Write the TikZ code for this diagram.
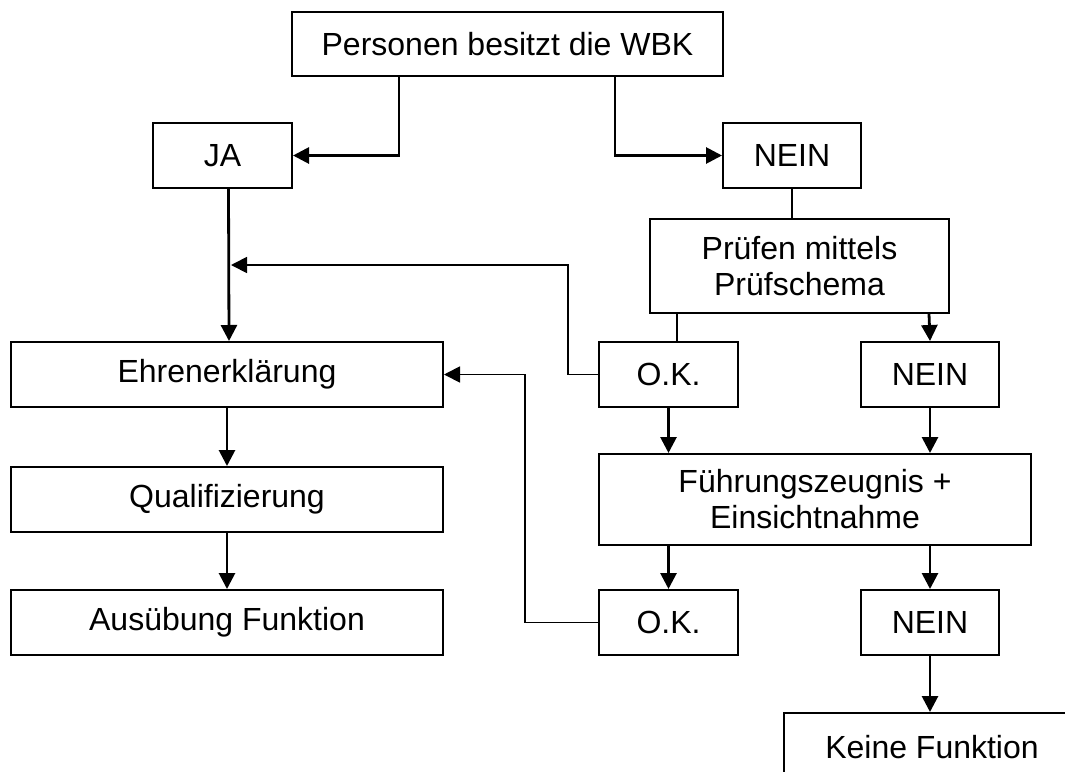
\documentclass[tikz,border=0pt]{standalone}
\usepackage{fontspec}
\setmainfont{Liberation Sans}
\usetikzlibrary{arrows.meta, positioning, calc}

\tikzset{
  kasten/.style={draw, line width=2pt, rectangle, inner sep=0pt, align=center,
    minimum width=139pt, minimum height=65pt, font=\fontsize{32}{36}\selectfont},
  breit/.style={kasten, minimum width=432pt},
  pfeil/.style={line width=2.8pt, -{Triangle[length=16pt,width=16pt]}},
  linie/.style={line width=2.2pt},
  rueck/.style={line width=1.8pt},
}

\begin{document}
\begin{tikzpicture}[x=1pt, y=-1pt]
\useasboundingbox (0,0) rectangle (1065,771);
\clip (0,0) rectangle (1065,771);

% Kästen
\node[breit, minimum width=431pt, minimum height=64pt] (wbk) at (507.5,44) {Personen besitzt die WBK};
\node[kasten] (ja) at (222.5,155.5) {JA};
\node[kasten, minimum width=138pt] (neinA) at (792,155.5) {NEIN};
\node[kasten, minimum width=299pt, minimum height=94pt] (pruef) at (799.5,266) {Prüfen mittels\\Prüfschema};
\node[breit] (ehren) at (227,374.5) {Ehrenerklärung};
\node[kasten] (okA) at (668.5,374.5) {O.K.};
\node[kasten, minimum width=138pt] (neinB) at (930,374.5) {NEIN};
\node[breit] (quali) at (227,499.5) {Qualifizierung};
\node[breit, minimum height=91pt] (fuehr) at (815,499.5) {Führungszeugnis +\\Einsichtnahme};
\node[breit] (ausueb) at (227,622.5) {Ausübung Funktion};
\node[kasten] (okB) at (668.5,622.5) {O.K.};
\node[kasten, minimum width=138pt] (neinC) at (930,622.5) {NEIN};
\node[kasten, minimum width=296pt, minimum height=68pt] (keine) at (932,747) {Keine Funktion};

% Verbindungen oben
\draw[pfeil] ([xshift=-108.5pt]wbk.south) |- (ja.east);
\draw[pfeil] ([xshift=107.5pt]wbk.south) |- (neinA.west);
\draw[pfeil] ([xshift=6pt]ja.south) -- ([xshift=2pt]ehren.north);
\draw[linie] (neinA.south) -- (neinA.south |- pruef.north);
\draw[linie] ([xshift=-122.5pt]pruef.south) -- ([xshift=-122.5pt]pruef.south |- okA.north);
\draw[pfeil] ([xshift=129.5pt]pruef.south) -- (neinB.north);

% Rückführungen
\coordinate (jaweg) at (231,265);
\draw[rueck, -{Triangle[length=16pt,width=16pt]}] (okA.west) -- ++(-30,0) |- (jaweg);
\draw[rueck, -{Triangle[length=16pt,width=16pt]}] (okB.west) -- ++(-73,0) |- (ehren.east);

% linke Spalte
\draw[pfeil] (ehren.south) -- (quali.north);
\draw[pfeil] (quali.south) -- (ausueb.north);

% rechte Spalte
\draw[pfeil] (okA.south) -- (okA.south |- fuehr.north);
\draw[pfeil] (neinB.south) -- (neinB.south |- fuehr.north);
\draw[pfeil] (fuehr.south -| okB.north) -- (okB.north);
\draw[pfeil] (fuehr.south -| neinC.north) -- (neinC.north);
\draw[pfeil] (neinC.south) -- (neinC.south |- keine.north);

\end{tikzpicture}
\end{document}
